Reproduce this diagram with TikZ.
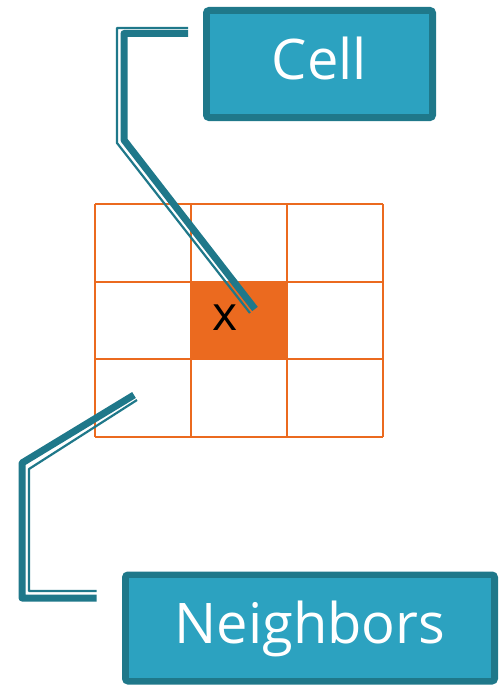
\documentclass[tikz,border=0pt]{standalone}
\usepackage{fontspec}
\setmainfont{Open Sans}
\usepackage{tikz}
\usetikzlibrary{calc, positioning}

\definecolor{tealdark}{HTML}{1F788A}
\definecolor{teallight}{HTML}{2CA2C0}
\definecolor{gridorange}{HTML}{EB6A1F}

\tikzset{
    labelbox/.style={draw=tealdark, line width=6pt, fill=teallight, rounded corners=3pt,
        text=white, font=\fontsize{56}{60}\selectfont, inner sep=0pt,
        text height=41pt, text depth=10pt},
    thickleg/.style={draw=tealdark, line width=7pt, line join=round},
    thinleg/.style={draw=tealdark, line width=2.2pt, line join=round},
    gridline/.style={draw=gridorange, line width=2pt}
}

\begin{document}
\begin{tikzpicture}[x=1pt, y=-1pt]
            \useasboundingbox (0,0) rectangle (501,685);

            % the 3x3 grid
            \fill[gridorange] (191,282) rectangle (287,359);
            \foreach \xx in {95,191,287,383}
                \draw[gridline] (\xx,204) -- (\xx,437);
            \foreach \yy in {204,282,359,437}
                \draw[gridline] (95,\yy) -- (383,\yy);
            \node[font=\fontsize{48}{50}\selectfont] (X) at (225,318) {x};

            % label boxes
            \node[labelbox, minimum width=227pt, minimum height=108pt] (Cell) at (319.5,64) {Cell};
            \node[labelbox, minimum width=370pt, minimum height=107pt] (Nb) at (310,628) {Neighbors};
            \draw[tealdark, line width=1.2pt] ([xshift=6pt,yshift=-6pt]Cell.north west) rectangle ([xshift=-6pt,yshift=6pt]Cell.south east);
            \draw[tealdark, line width=1.2pt] ([xshift=6pt,yshift=-6pt]Nb.north west) rectangle ([xshift=-6pt,yshift=6pt]Nb.south east);

            % callout for Cell
            \coordinate (cellA) at (188,33.5);
            \coordinate (cellB) at (255,309);
            \draw[thickleg] (cellA) -- (124,33.5) -- (124,140) -- (cellB);
            \draw[thinleg] ([yshift=5.5pt]cellA) -- (117,28) -- (117,143) -- ([xshift=-5pt,yshift=-4pt]cellB);

            % callout for Neighbors
            \coordinate (nbA) at (96.5,598);
            \coordinate (nbB) at (134,395);
            \draw[thickleg] (nbA) -- (22,598) -- (22,463) -- (nbB);
            \draw[thinleg] ([yshift=7pt]nbA) -- (29,591) -- (29,469) -- ([xshift=3pt,yshift=-5pt]nbB);
        \end{tikzpicture}
\end{document}
